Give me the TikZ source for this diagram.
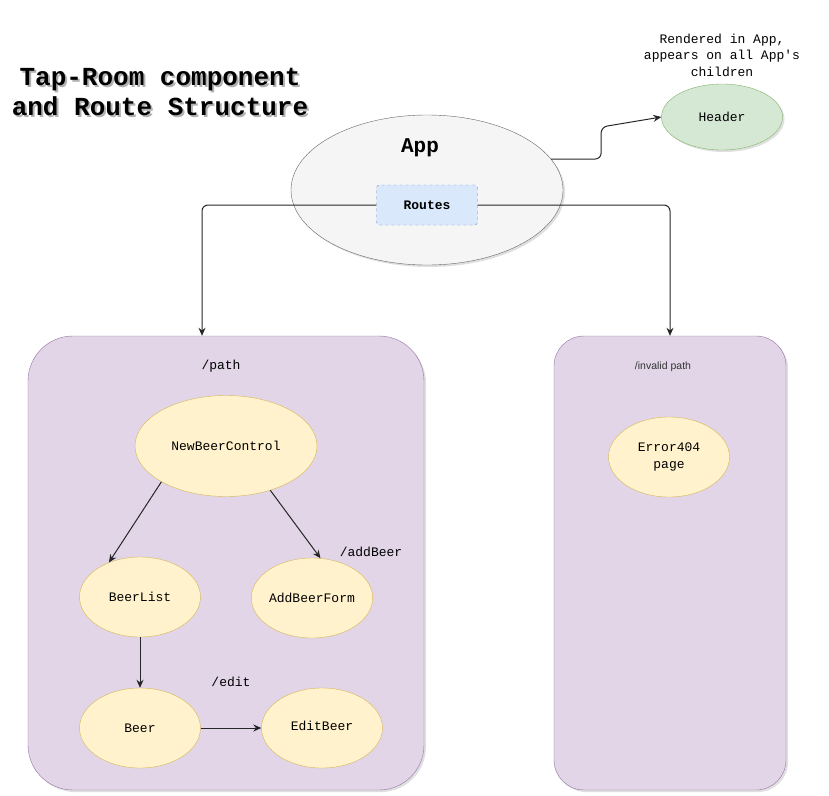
\documentclass[tikz,border=0pt]{standalone}
\usepackage{fontspec}
\usetikzlibrary{positioning,shapes.geometric,shadows,arrows.meta}
\newfontfamily\codefont{Liberation Mono}
\newfontfamily\plainfont{Liberation Sans}
\def\code{\codefont\fontsize{13}{16.5}\selectfont}
\definecolor{appfill}{HTML}{F5F5F5}
\definecolor{appline}{HTML}{666666}
\definecolor{routefill}{HTML}{DAE8FC}
\definecolor{routeline}{HTML}{6C8EBF}
\definecolor{hdrfill}{HTML}{D5E8D4}
\definecolor{hdrline}{HTML}{82B366}
\definecolor{boxfill}{HTML}{E1D5E7}
\definecolor{boxline}{HTML}{9673A6}
\definecolor{compfill}{HTML}{FFF2CC}
\definecolor{compline}{HTML}{D6B656}

\begin{document}
\begin{tikzpicture}[x=1pt,y=-1pt,>={Stealth[length=8pt,width=7pt]},
	shade/.style={drop shadow={opacity=0.25,shadow xshift=2pt,shadow yshift=-2pt}},
	comp/.style={ellipse,draw=compline,fill=compfill,minimum width=121pt,minimum height=80pt,font=\code,align=center,inner sep=0pt},
	routebox/.style={rectangle,minimum width=396pt,minimum height=454pt,draw=boxline,fill=boxfill,shade},
	route/.style={font=\code},
	link/.style={->,draw=black!85,line width=1pt}]
\useasboundingbox (0,0) rectangle (829,795);

% title
\node[text=black!30,align=center,font=\codefont\bfseries\fontsize{26}{30}\selectfont]	(titleshadow)	at (162,94)		{Tap-Room component\\and Route Structure};
\node[align=center,font=\codefont\bfseries\fontsize{26}{30}\selectfont]				(title)			at (160,92)		{Tap-Room component\\and Route Structure};

% containers
\node[routebox,rounded corners=45pt]											(pathbox)		at (226,563)	{};
\node[routebox,rounded corners=30pt,minimum width=232pt]						(invalidbox)	at (670,563)	{};

% App and its children
\node[ellipse,draw=appline,fill=appfill,minimum width=272pt,minimum height=150pt,shade]	(App)	at (427,190)	{};
\node[font=\codefont\bfseries\fontsize{21}{24}\selectfont]						(applabel)		at ([xshift=-7pt,yshift=42pt]App.center)	{App};
\node[draw=routeline,dashed,fill=routefill,rounded corners=3pt,minimum width=101pt,minimum height=40pt,font=\code\bfseries]	(Routes)	at (427,205)	{Routes};
\node[ellipse,draw=hdrline,fill=hdrfill,minimum width=121pt,minimum height=66pt,font=\code,shade]	(Header)	at (722,117)	{Header};
\node[align=center,font=\code]													(note)			at (722,55)		{Rendered in App,\\appears on all App's\\children};

% /path components
\node[route]																	(pathlabel)		at (221,366)	{/path};
\node[comp,minimum width=182pt,minimum height=101pt]							(NewBeerControl)	at (226,446)	{NewBeerControl};
\node[comp]																		(BeerList)		at (140,597)	{BeerList};
\node[comp]																		(AddBeerForm)	at (312,598)	{AddBeerForm};
\node[comp]																		(Beer)			at (140,728)	{Beer};
\node[comp]																		(EditBeer)		at (322,728)	{\raisebox{5pt}{EditBeer}};
\node[route]																	(addlabel)		at (371,552)	{/addBeer};
\node[route]																	(editlabel)		at (231,682)	{/edit};

% /invalid path
\node[font=\plainfont\fontsize{10.5}{12}\selectfont,text=black!80]			(invalidlabel)	at (663,367)	{/invalid path};
\node[comp]																		(Error404)		at (669,457)	{Error404\\page};

\draw[link,rounded corners=6pt] (Routes.west) -| ([xshift=-24pt]pathbox.north);
\draw[link,rounded corners=6pt] (Routes.east) -| (invalidbox.north);
\draw[link,rounded corners=6pt] (App.14) -- ++(50,0) -- ++(0,-32) -- (Header.west);
\draw[link] (NewBeerControl.209) -- (BeerList.132);
\draw[link] (NewBeerControl.315) -- (AddBeerForm.78);
\draw[link] (BeerList.south) -- (Beer.north);
\draw[link] (Beer.east) -- (EditBeer.west);
\end{tikzpicture}
\end{document}
